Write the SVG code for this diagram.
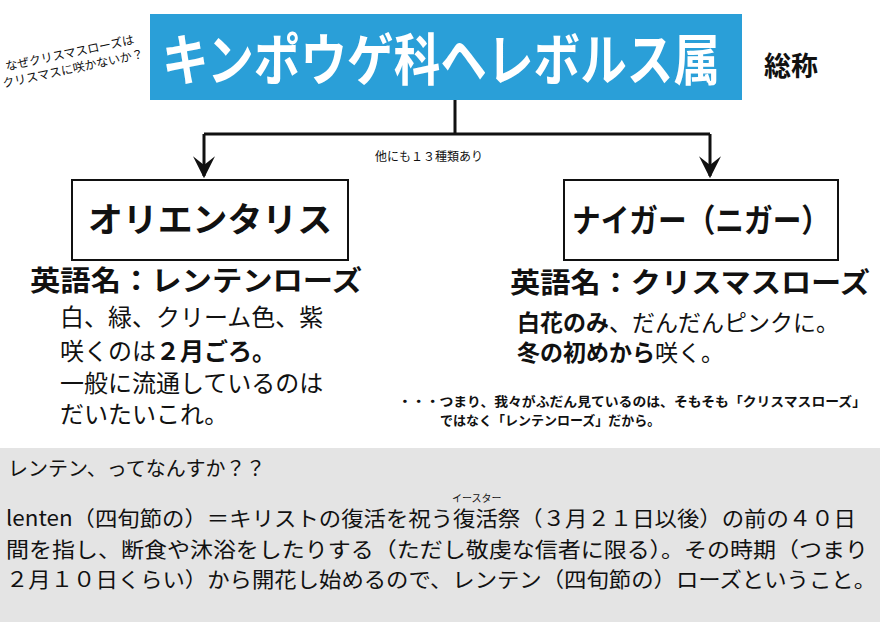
<svg xmlns="http://www.w3.org/2000/svg" width="880" height="622" viewBox="0 0 880 622">
<style>
text{font-family:"Noto Sans CJK JP","Noto Sans",sans-serif;fill:#111}
.b{font-weight:bold}
.box{fill:#fff;stroke:#111;stroke-width:2}
.ln{stroke:#111;stroke-width:3;fill:none}
</style>
<defs>
<marker id="a" viewBox="0 0 20 20" markerWidth="22" markerHeight="22" refX="18" refY="10" orient="auto" markerUnits="userSpaceOnUse"><path d="M0,0 L20,10 L0,20 L8,10Z" fill="#111"/></marker></defs>
<rect x="0" y="448" width="880" height="174" fill="#e4e4e4"/>
<g id="title"><rect x="150" y="14" width="592" height="86" fill="#2a9fd8"/>
<text x="162" y="80" font-size="56" class="b" style="fill:#fff" textLength="558" lengthAdjust="spacingAndGlyphs">キンポウゲ科ヘレボルス属</text></g>
<text x="764" y="76" font-size="27" class="b">総称</text>
<g transform="rotate(-12 72 64)"><text x="72" y="57" font-size="12" text-anchor="middle">なぜクリスマスローズは</text><text x="72" y="73" font-size="12" text-anchor="middle">クリスマスに咲かないか？</text></g>
<g id="connectors">
<path class="ln" d="M455,100 V134 M204,134 H710"/>
<path class="ln" d="M204,134 V176" marker-end="url(#a)"/>
<path class="ln" d="M710,134 V176" marker-end="url(#a)"/>
</g>
<text x="375" y="161" font-size="12">他にも１３種類あり</text>
<g id="oriental"><rect class="box" x="72" y="180" width="276" height="80"/><text x="88" y="232" font-size="34" class="b" textLength="244" lengthAdjust="spacingAndGlyphs">オリエンタリス</text></g>
<g id="niger"><rect class="box" x="564" y="180" width="274" height="80"/><text x="572" y="232" font-size="32" class="b" textLength="258" lengthAdjust="spacingAndGlyphs">ナイガー（ニガー）</text></g>
<text x="30" y="291" font-size="28" class="b" textLength="332" lengthAdjust="spacingAndGlyphs">英語名：レンテンローズ</text>
<text x="60" y="326" font-size="24">白、緑、クリーム色、紫</text>
<text x="60" y="360" font-size="24">咲くのは<tspan class="b">２月ごろ。</tspan></text>
<text x="60" y="392" font-size="24">一般に流通しているのは</text>
<text x="60" y="423" font-size="24">だいたいこれ。</text>
<text x="510" y="293" font-size="28" class="b" textLength="360" lengthAdjust="spacingAndGlyphs">英語名：クリスマスローズ</text>
<text x="517" y="331" font-size="23"><tspan class="b">白花のみ</tspan>、だんだんピンクに。</text>
<text x="517" y="361" font-size="23"><tspan class="b">冬の初めから</tspan>咲く。</text>
<text x="398" y="406" font-size="13" class="b" textLength="468" lengthAdjust="spacingAndGlyphs">・・・つまり、我々がふだん見ているのは、そもそも「クリスマスローズ」</text>
<text x="440" y="425" font-size="13" class="b">ではなく「レンテンローズ」だから。</text>
<text x="8" y="476" font-size="20">レンテン、ってなんすか？？</text>
<text x="452" y="502" font-size="10">イースター</text>
<text x="6" y="526" font-size="21" textLength="850" lengthAdjust="spacingAndGlyphs">lenten（四旬節の）＝キリストの復活を祝う復活祭（３月２１日以後）の前の４０日</text>
<text x="6" y="557" font-size="21" textLength="862" lengthAdjust="spacingAndGlyphs">間を指し、断食や沐浴をしたりする（ただし敬虔な信者に限る）。その時期（つまり</text>
<text x="6" y="587" font-size="21" textLength="870" lengthAdjust="spacingAndGlyphs">２月１０日くらい）から開花し始めるので、レンテン（四旬節の）ローズということ。</text>
</svg>
